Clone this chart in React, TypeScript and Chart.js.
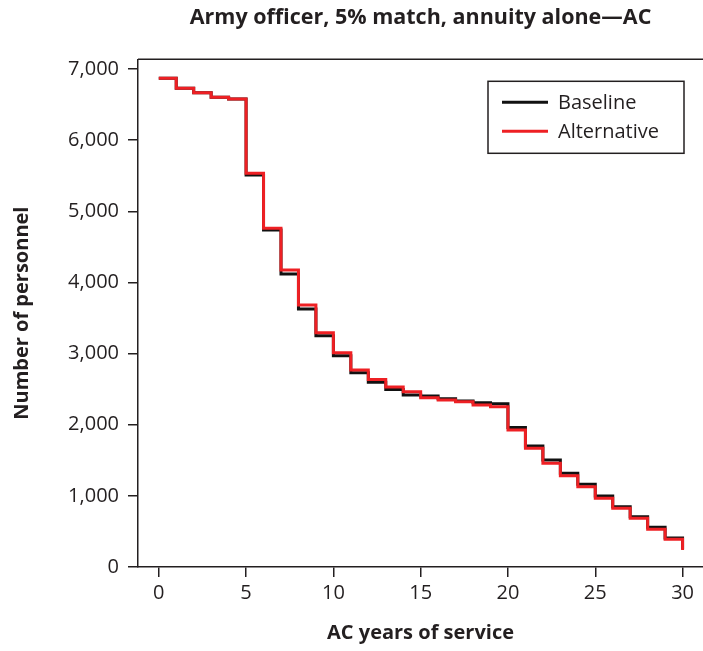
import React, { useEffect, useRef } from "react";
import { Chart, registerables } from "chart.js";

Chart.register(...registerables);

const FONT = "'Open Sans', 'Noto Sans', sans-serif";
const TEXT = "#231f20";

const titleText = "Army officer, 5% match, annuity alone\u2014AC";
const xTitle = "AC years of service";
const yTitle = "Number of personnel";

const years = [0, 1, 2, 3, 4, 5, 6, 7, 8, 9, 10, 11, 12, 13, 14, 15, 16, 17, 18, 19, 20, 21, 22, 23, 24, 25, 26, 27, 28, 29, 30];

const baseline = [6870, 6729, 6667, 6602, 6579, 5510, 4737, 4119, 3627, 3251, 2970, 2731, 2598, 2495, 2418, 2404, 2366, 2333, 2310, 2295, 1961, 1701, 1504, 1317, 1163, 998, 848, 707, 558, 408, 250];
const alternative = [6870, 6729, 6667, 6602, 6579, 5534, 4761, 4175, 3683, 3292, 3011, 2769, 2636, 2530, 2464, 2380, 2347, 2324, 2277, 2253, 1926, 1669, 1458, 1283, 1129, 966, 825, 684, 530, 389, 239];

const xTicks = [0, 5, 10, 15, 20, 25, 30];
const yTicks = [0, 1000, 2000, 3000, 4000, 5000, 6000, 7000];

const toPoints = (vals: number[]) => vals.map((v, i) => ({ x: years[i], y: v }));

const framePlugin = {
  id: "frameAndLegend",
  afterDraw(chart: any) {
    const { ctx, chartArea } = chart;
    ctx.save();
    ctx.strokeStyle = TEXT;
    ctx.lineWidth = 1.5;
    ctx.beginPath();
    ctx.moveTo(chartArea.left, chartArea.top);
    ctx.lineTo(chartArea.right, chartArea.top);
    ctx.stroke();

    const w = 196;
    const h = 72;
    const x0 = chartArea.right - 19 - w;
    const y0 = chartArea.top + 22;
    ctx.fillStyle = "#ffffff";
    ctx.fillRect(x0, y0, w, h);
    ctx.strokeRect(x0, y0, w, h);
    ctx.font = `20px ${FONT}`;
    ctx.textBaseline = "middle";
    ctx.textAlign = "left";
    chart.data.datasets.forEach((ds: any, i: number) => {
      const y = y0 + 21 + i * 29;
      ctx.strokeStyle = ds.borderColor;
      ctx.lineWidth = 3;
      ctx.beginPath();
      ctx.moveTo(x0 + 14, y);
      ctx.lineTo(x0 + 60, y);
      ctx.stroke();
      ctx.fillStyle = TEXT;
      ctx.fillText(ds.label, x0 + 70, y + 1);
    });
    ctx.restore();
  },
};

export default function App() {
  const ref = useRef<HTMLCanvasElement>(null);

  useEffect(() => {
    if (!ref.current) return;
    const chart = new Chart(ref.current, {
      type: "line",
      data: {
        datasets: [
          {
            label: "Baseline",
            data: toPoints(baseline),
            borderColor: "#111111",
            backgroundColor: "#111111",
            borderWidth: 3,
            stepped: true,
            pointRadius: 0,
            fill: false,
            order: 2,
          },
          {
            label: "Alternative",
            data: toPoints(alternative),
            borderColor: "#ee2024",
            backgroundColor: "#ee2024",
            borderWidth: 3,
            stepped: true,
            pointRadius: 0,
            fill: false,
            order: 1,
          },
        ],
      },
      options: {
        responsive: false,
        animation: false,
        layout: { padding: 0 },
        plugins: {
          legend: { display: false },
          tooltip: { enabled: false },
          title: {
            display: true,
            text: titleText,
            fullSize: false,
            color: TEXT,
            font: { family: FONT, size: 21.5, weight: "bold" },
            padding: { top: 5.1, bottom: 28.4 },
          },
        },
        scales: {
          x: {
            type: "linear",
            min: -1.19,
            max: 31.17,
            afterBuildTicks: (sc: any) => {
              sc.ticks = xTicks.map((v) => ({ value: v }));
            },
            afterFit: (sc: any) => {
              sc.height = 84;
            },
            ticks: {
              color: TEXT,
              font: { family: FONT, size: 20 },
              padding: 4,
              maxRotation: 0,
              autoSkip: false,
            },
            grid: {
              display: true,
              drawOnChartArea: false,
              drawTicks: true,
              tickLength: 10,
              color: TEXT,
              lineWidth: 1.5,
            },
            border: { display: true, color: TEXT, width: 1.5 },
            title: {
              display: true,
              text: xTitle,
              color: TEXT,
              font: { family: FONT, size: 20, weight: "bold" },
              padding: { top: 0, bottom: 6 },
            },
          },
          y: {
            type: "linear",
            min: 0,
            max: 7137,
            afterBuildTicks: (sc: any) => {
              sc.ticks = yTicks.map((v) => ({ value: v }));
            },
            afterFit: (sc: any) => {
              sc.width = 138;
            },
            ticks: {
              color: TEXT,
              font: { family: FONT, size: 20 },
              padding: 9,
              callback: (v: any) => Number(v).toLocaleString("en-US"),
            },
            grid: {
              display: true,
              drawOnChartArea: false,
              drawTicks: true,
              tickLength: 10,
              color: TEXT,
              lineWidth: 1.5,
            },
            border: { display: true, color: TEXT, width: 1.5 },
            title: {
              display: true,
              text: yTitle,
              color: TEXT,
              font: { family: FONT, size: 20, weight: "bold" },
              padding: { top: 10, bottom: 0 },
            },
          },
        },
      },
      plugins: [framePlugin],
    });
    return () => chart.destroy();
  }, []);

  return (
    <div style={{ position: "fixed", left: 0, top: 0, width: 703, height: 651, background: "#fff" }}>
      <canvas ref={ref} width={703} height={651} style={{ display: "block" }} />
    </div>
  );
}
